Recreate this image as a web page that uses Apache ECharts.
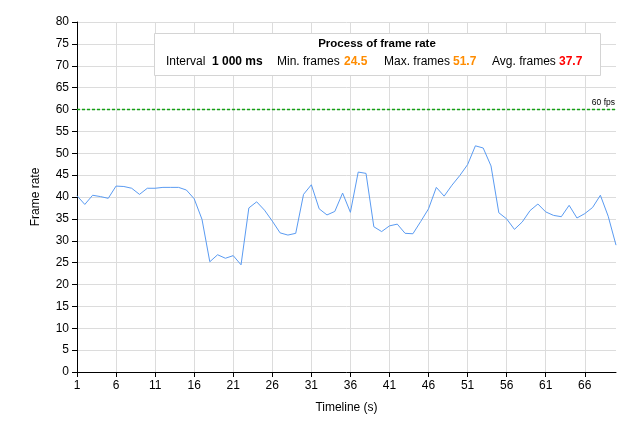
<!DOCTYPE html>
<html>
<head>
<meta charset="utf-8">
<script src="https://cdn.jsdelivr.net/npm/echarts@6/dist/echarts.min.js"></script>
<style>
html,body{margin:0;padding:0;background:#fff;}
#chart{width:635px;height:432px;}
</style>
</head>
<body>
<div id="chart"></div>
<script>
// ---- data ----
var seconds = [];
for (var i = 1; i <= 70; i++) seconds.push(String(i));
var frameRate = [
  40.3, 38.3, 40.4, 40.1, 39.7, 42.5, 42.4, 42.0, 40.6, 42.0,
  42.0, 42.2, 42.2, 42.2, 41.6, 39.6, 34.9, 25.2, 26.8, 26.0,
  26.6, 24.5, 37.5, 38.9, 37.0, 34.5, 31.8, 31.3, 31.7, 40.6,
  42.8, 37.3, 35.9, 36.7, 40.9, 36.5, 45.7, 45.4, 33.2, 32.1,
  33.4, 33.8, 31.7, 31.6, 34.4, 37.3, 42.2, 40.2, 42.7, 44.9,
  47.4, 51.7, 51.2, 47.1, 36.4, 35.0, 32.6, 34.3, 36.9, 38.4,
  36.6, 35.8, 35.5, 38.1, 35.2, 36.2, 37.6, 40.4, 35.6, 29.0
];
var targetFps = 60;
var targetLabel = '60 fps';
var chartTitle = 'Process of frame rate';
var statNames = ['Interval', 'Min. frames', 'Max. frames', 'Avg. frames'];
var statValues = ['1 000 ms', '24.5', '51.7', '37.7'];
var yName = 'Frame rate';
var xName = 'Timeline (s)';
var targetLine = seconds.map(function () { return targetFps; });

// ---- layout (styles only) ----
var FONT = 'Liberation Sans, Arial, sans-serif';
var GREEN = 'rgb(20,160,20)';
var statLayout = [
  {nx: 166, vx: 212, vc: '#000000'},
  {nx: 277, vx: 344, vc: '#ff8c00'},
  {nx: 384, vx: 453, vc: '#ff8c00'},
  {nx: 492, vx: 559, vc: '#ff0000'}
];
var graphics = [
  {type: 'rect', shape: {x: 154.5, y: 33.5, width: 446, height: 42},
   style: {fill: '#fff', stroke: '#d4d4d4', lineWidth: 1}, z: 100},
  {type: 'text', x: 377, y: 44, z: 101,
   style: {text: chartTitle, font: 'bold 11.5px ' + FONT, fill: '#000',
           textAlign: 'center', textVerticalAlign: 'middle'}}
];
statNames.forEach(function (n, k) {
  graphics.push({type: 'text', x: statLayout[k].nx, y: 62, z: 101,
    style: {text: n, font: '12px ' + FONT, fill: '#000', textVerticalAlign: 'middle'}});
  graphics.push({type: 'text', x: statLayout[k].vx, y: 62, z: 101,
    style: {text: statValues[k], font: 'bold 12px ' + FONT, fill: statLayout[k].vc, textVerticalAlign: 'middle'}});
});

var chart = echarts.init(document.getElementById('chart'));
chart.setOption({
  animation: false,
  backgroundColor: '#fff',
  textStyle: {fontFamily: FONT},
  color: ['#5a9bf2', GREEN],
  grid: {left: 77, right: 19, top: 22, bottom: 60, containLabel: false},
  graphic: graphics,
  xAxis: {
    type: 'category',
    data: seconds,
    boundaryGap: false,
    name: xName,
    nameLocation: 'middle',
    nameGap: 30,
    nameTextStyle: {fontSize: 12, color: '#000', fontFamily: FONT},
    axisLine: {lineStyle: {color: '#000', width: 1}},
    axisTick: {show: true, interval: 4, length: 5, lineStyle: {color: '#000'}},
    axisLabel: {interval: 4, color: '#000', fontSize: 12, margin: 8, fontFamily: FONT},
    splitLine: {show: true, interval: 4, lineStyle: {color: '#dcdcdc', width: 1}}
  },
  yAxis: {
    type: 'value',
    min: 0, max: 80, interval: 5,
    name: yName,
    nameLocation: 'middle',
    nameGap: 35,
    nameTextStyle: {fontSize: 12, color: '#000', fontFamily: FONT},
    axisLine: {show: true, lineStyle: {color: '#000', width: 1}},
    axisTick: {show: true, length: 5, lineStyle: {color: '#000'}},
    axisLabel: {color: '#000', fontSize: 12, margin: 8, fontFamily: FONT},
    splitLine: {show: true, lineStyle: {color: '#dcdcdc', width: 1}}
  },
  series: [{
    type: 'line',
    data: frameRate,
    symbol: 'none',
    lineStyle: {width: 1},
    z: 3
  }, {
    type: 'line',
    data: targetLine,
    symbol: 'none',
    silent: true,
    lineStyle: {type: [3, 2], width: 1.5},
    z: 2,
    endLabel: {show: true, formatter: targetLabel, fontSize: 8.5, color: '#000',
               fontFamily: FONT, align: 'right', verticalAlign: 'bottom', offset: [-9, -2]}
  }]
});
</script>
</body>
</html>
